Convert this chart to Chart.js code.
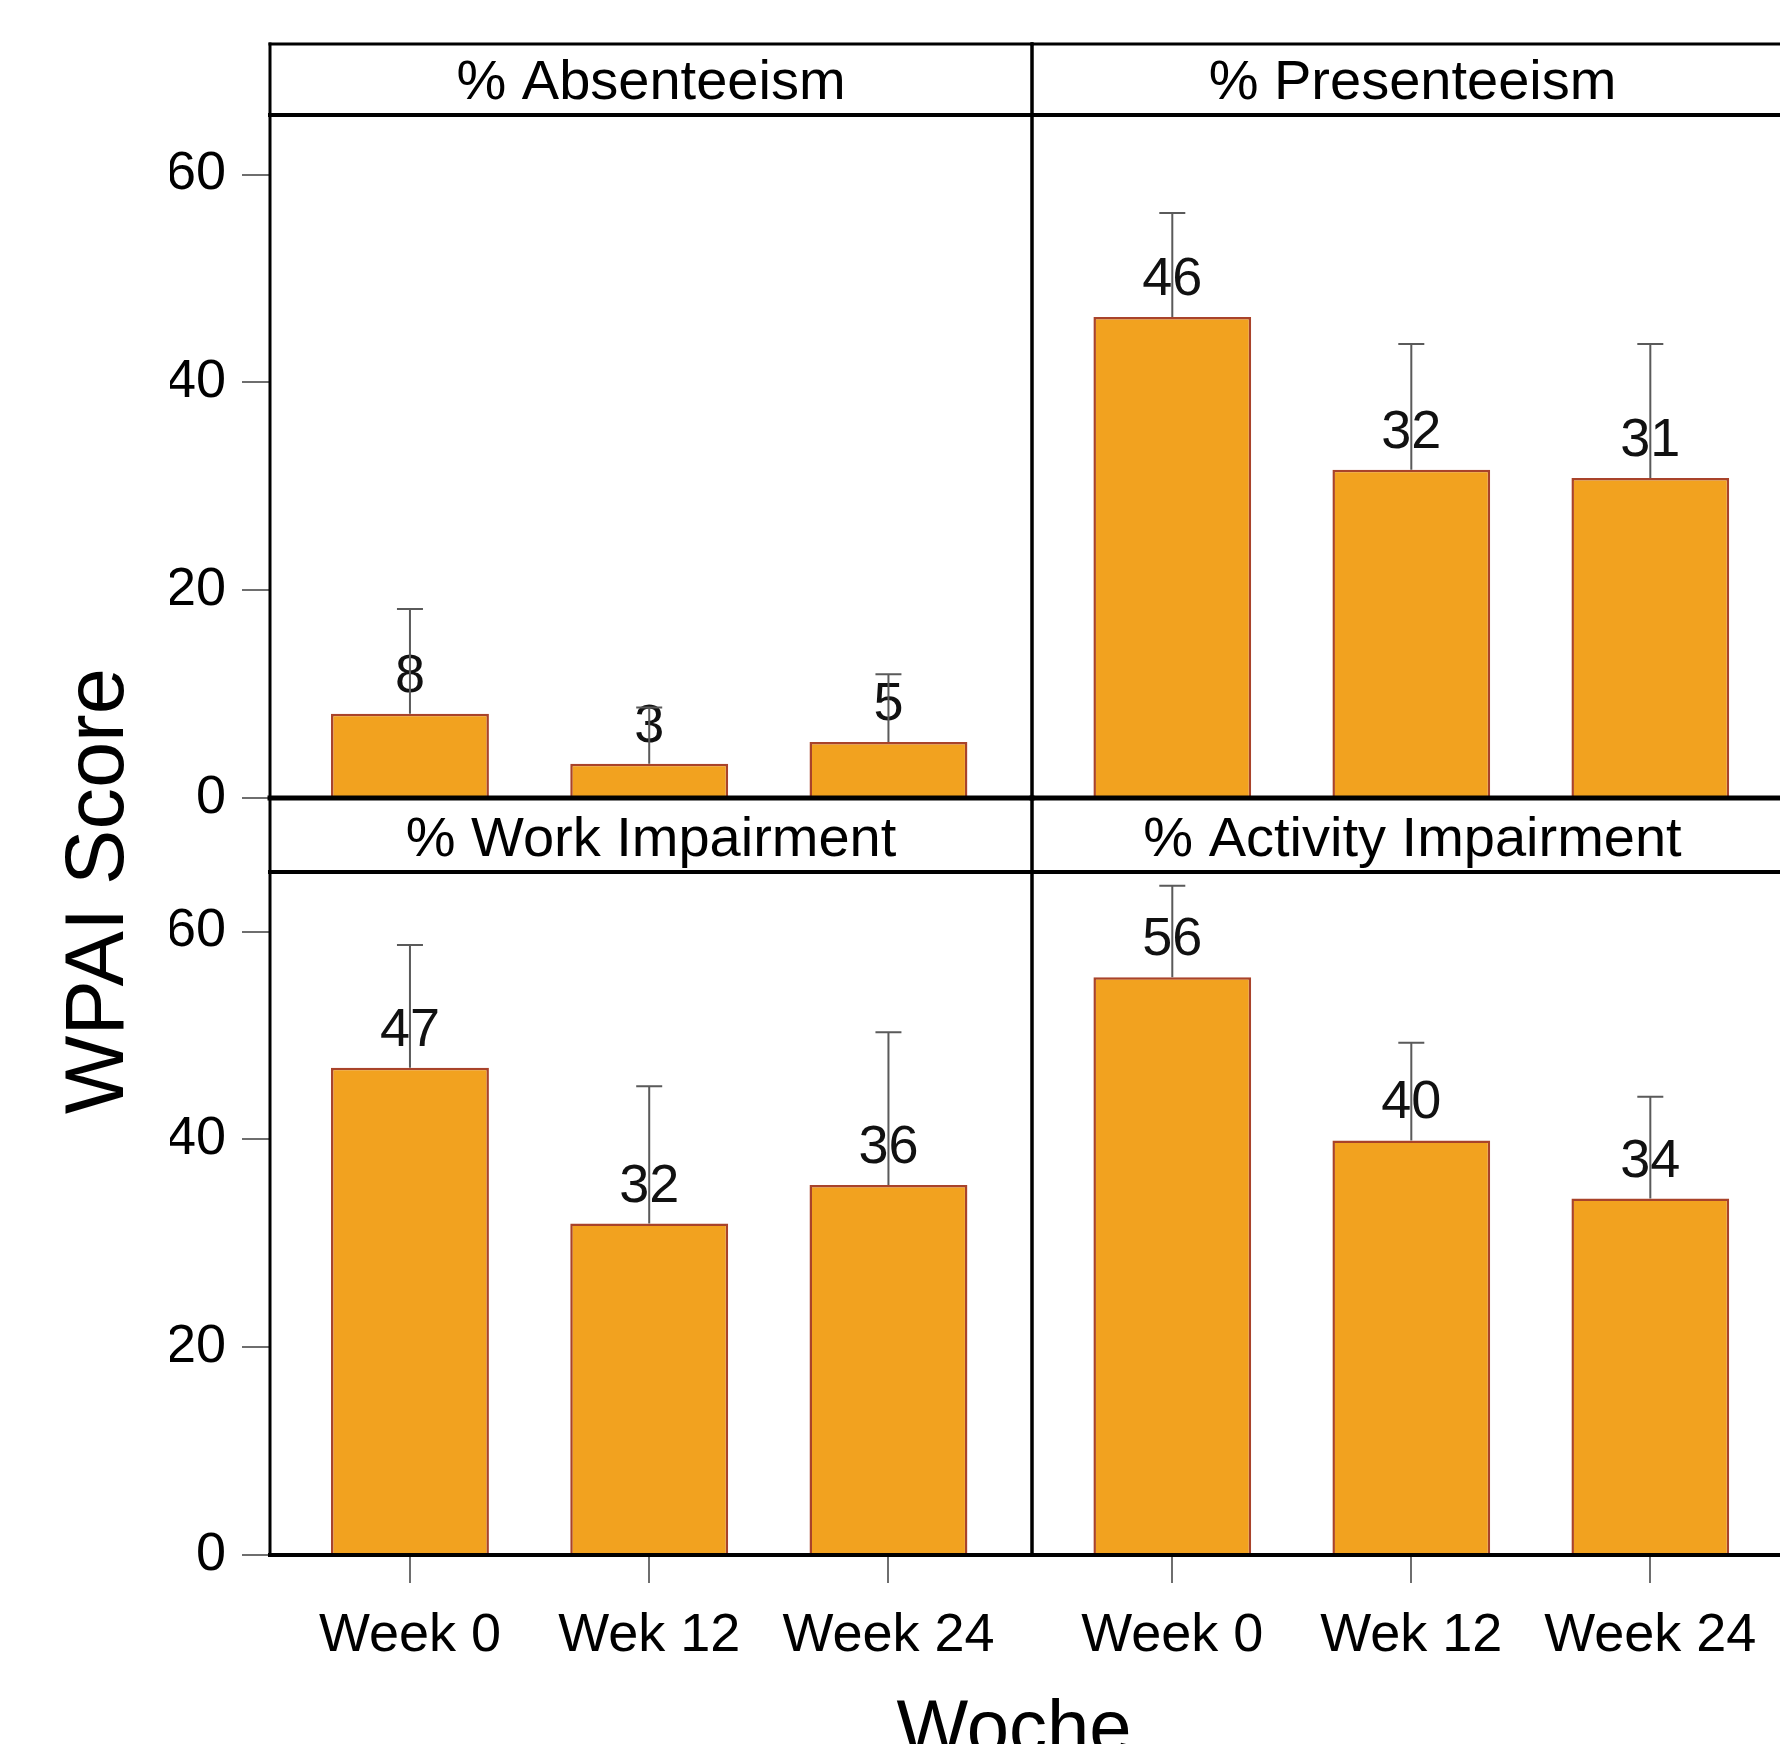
<!DOCTYPE html>
<html>
<head>
<meta charset="utf-8">
<title>WPAI Score by Woche</title>
<script src="https://cdn.jsdelivr.net/npm/chart.js@4.4.1/dist/chart.umd.min.js"></script>
<style>
  html, body { margin: 0; padding: 0; background: #fff; overflow: hidden; }
  #wrap { position: relative; width: 1780px; height: 1744px; overflow: hidden; background: #fff; }
  #wrap canvas { position: absolute; left: 0; top: 0; }
</style>
</head>
<body>
<div id="wrap">
  <canvas id="cAbs" width="1800" height="1744"></canvas>
  <canvas id="cPres" width="1800" height="1744"></canvas>
  <canvas id="cWork" width="1800" height="1744"></canvas>
  <canvas id="cAct" width="1800" height="1744"></canvas>
</div>
<script>
// ---- data ----
const weekLabels = ['Week 0', 'Wek 12', 'Week 24'];
const weekIndex = [0, 1, 2];
const yTicks = [0, 20, 40, 60];

const panelTitles = ['% Absenteeism', '% Presenteeism', '% Work Impairment', '% Activity Impairment'];

// mean scores per week
const absenteeism  = [8.1, 3.3, 5.4];
const presenteeism = [46.3, 31.6, 30.8];
const workImpair   = [46.9, 31.9, 35.6];
const activImpair  = [55.6, 39.9, 34.3];

// upper end of the error bar per week
const absenteeismUpper  = [18.2, 8.7, 11.9];
const presenteeismUpper = [56.3, 43.7, 43.7];
const workImpairUpper   = [58.7, 45.1, 50.3];
const activImpairUpper  = [64.4, 49.3, 44.1];

const yAxisTitle = 'WPAI Score';
const xAxisTitle = 'Woche';

// ---- styling ----
const FONT = "'Liberation Sans', Arial, Helvetica, sans-serif";
const BAR_FILL = '#F2A21F';
const BAR_EDGE = '#A9432A';
const TICK_GRAY = '#6e6e6e';
const Y_MAX = 65.73;

// strip header above each panel + panel frame
const stripPlugin = {
  id: 'strip',
  afterDraw(chart, args, opts) {
    const { ctx, chartArea: a } = chart;
    const top = a.top - opts.height;
    ctx.save();
    ctx.strokeStyle = '#000';
    ctx.lineCap = 'square';
    const line = (x1, y1, x2, y2, w) => {
      ctx.lineWidth = w;
      ctx.beginPath(); ctx.moveTo(x1, y1); ctx.lineTo(x2, y2); ctx.stroke();
    };
    line(a.left, top, a.right, top, opts.topWidth);
    line(a.left, a.top, a.right, a.top, 4);
    line(a.left, a.bottom, a.right, a.bottom, 4);
    line(a.left, top, a.left, a.bottom, 3);
    line(a.right, top, a.right, a.bottom, 3);
    ctx.fillStyle = '#000';
    ctx.font = '56px ' + FONT;
    ctx.textAlign = 'center';
    ctx.textBaseline = 'alphabetic';
    ctx.fillText(opts.text, (a.left + a.right) / 2, a.top - 16);
    ctx.restore();
  }
};

// rounded mean above each bar, then the upper error whisker
const barMarksPlugin = {
  id: 'barMarks',
  afterDatasetsDraw(chart) {
    const { ctx } = chart;
    const ds = chart.data.datasets[0];
    const meta = chart.getDatasetMeta(0);
    const yScale = chart.scales.y;
    ctx.save();
    ctx.fillStyle = '#111';
    ctx.font = '54px ' + FONT;
    ctx.textAlign = 'center';
    ctx.textBaseline = 'alphabetic';
    meta.data.forEach((bar, i) => {
      ctx.fillText(String(Math.round(ds.data[i].y)), bar.x, bar.y - 22);
    });
    ctx.strokeStyle = '#5a5a5a';
    ctx.lineWidth = 2;
    meta.data.forEach((bar, i) => {
      const yUp = yScale.getPixelForValue(ds.upper[i]);
      ctx.beginPath();
      ctx.moveTo(bar.x, bar.y);
      ctx.lineTo(bar.x, yUp);
      ctx.moveTo(bar.x - 13, yUp);
      ctx.lineTo(bar.x + 13, yUp);
      ctx.stroke();
    });
    ctx.restore();
  }
};

// shared axis titles of the whole panel grid
const gridTitlesPlugin = {
  id: 'gridTitles',
  afterDraw(chart) {
    const { ctx } = chart;
    ctx.save();
    ctx.fillStyle = '#000';
    ctx.textAlign = 'center';
    ctx.textBaseline = 'alphabetic';
    ctx.font = '83px ' + FONT;
    ctx.translate(123, 891);
    ctx.rotate(-Math.PI / 2);
    ctx.fillText(yAxisTitle, 0, 0);
    ctx.restore();
    ctx.save();
    ctx.fillStyle = '#000';
    ctx.textAlign = 'center';
    ctx.textBaseline = 'alphabetic';
    ctx.font = '76px ' + FONT;
    ctx.fillText(xAxisTitle, 1014, 1753);
    ctx.restore();
  }
};

function makePanel(id, cfg) {
  const tickFont = { family: FONT, size: 54 };
  const plugins = [stripPlugin, barMarksPlugin];
  if (cfg.gridTitles) plugins.push(gridTitlesPlugin);
  return new Chart(document.getElementById(id), {
    type: 'bar',
    data: {
      datasets: [{
        data: weekIndex.map((w, i) => ({ x: w, y: cfg.values[i] })),
        upper: cfg.upper,
        backgroundColor: BAR_FILL,
        borderColor: BAR_EDGE,
        borderWidth: 2.5,
        categoryPercentage: 1,
        barPercentage: 0.66
      }]
    },
    options: {
      responsive: false,
      animation: false,
      events: [],
      layout: { padding: cfg.padding },
      plugins: {
        legend: { display: false },
        tooltip: { enabled: false },
        title: { display: false },
        strip: { text: cfg.title, height: cfg.stripHeight, topWidth: cfg.topWidth }
      },
      scales: {
        x: {
          type: 'linear',
          offset: false,
          min: cfg.xMin,
          max: cfg.xMax,
          display: cfg.showX,
          afterBuildTicks: s => { s.ticks = weekIndex.map(v => ({ value: v })); },
          afterFit: s => { if (cfg.showX) s.height = 140; },
          ticks: {
            font: tickFont, color: '#000', padding: 21,
            maxRotation: 0, minRotation: 0, autoSkip: false,
            callback: v => weekLabels[v]
          },
          grid: { offset: false, drawOnChartArea: false, drawTicks: true, tickLength: 28, color: TICK_GRAY, lineWidth: 2 },
          border: { display: false }
        },
        y: {
          min: 0,
          max: Y_MAX,
          display: cfg.showY,
          afterBuildTicks: s => { s.ticks = yTicks.map(v => ({ value: v })); },
          afterFit: s => { if (cfg.showY) s.width = 100; },
          ticks: { font: tickFont, color: '#000', padding: 16 },
          grid: { drawOnChartArea: false, drawTicks: true, tickLength: 28, color: TICK_GRAY, lineWidth: 2 },
          border: { display: false }
        }
      }
    },
    plugins
  });
}

// top row: plot area y 115..798, bottom row: 872..1555
// left column: x 270..1032, right column: 1032..1793
makePanel('cAbs', {
  title: panelTitles[0], values: absenteeism, upper: absenteeismUpper,
  showX: false, showY: true, xMin: -0.585, xMax: 2.6,
  stripHeight: 71, topWidth: 3,
  padding: { left: 170, right: 768, top: 115, bottom: 946 }
});
makePanel('cPres', {
  title: panelTitles[1], values: presenteeism, upper: presenteeismUpper,
  showX: false, showY: false, xMin: -0.587, xMax: 2.597,
  stripHeight: 71, topWidth: 3,
  padding: { left: 1032, right: 7, top: 115, bottom: 946 }
});
makePanel('cWork', {
  title: panelTitles[2], values: workImpair, upper: workImpairUpper,
  showX: true, showY: true, xMin: -0.585, xMax: 2.6,
  stripHeight: 74, topWidth: 5, gridTitles: true,
  padding: { left: 170, right: 768, top: 872, bottom: 49 }
});
makePanel('cAct', {
  title: panelTitles[3], values: activImpair, upper: activImpairUpper,
  showX: true, showY: false, xMin: -0.587, xMax: 2.597,
  stripHeight: 74, topWidth: 5,
  padding: { left: 1032, right: 7, top: 872, bottom: 49 }
});
</script>
</body>
</html>
